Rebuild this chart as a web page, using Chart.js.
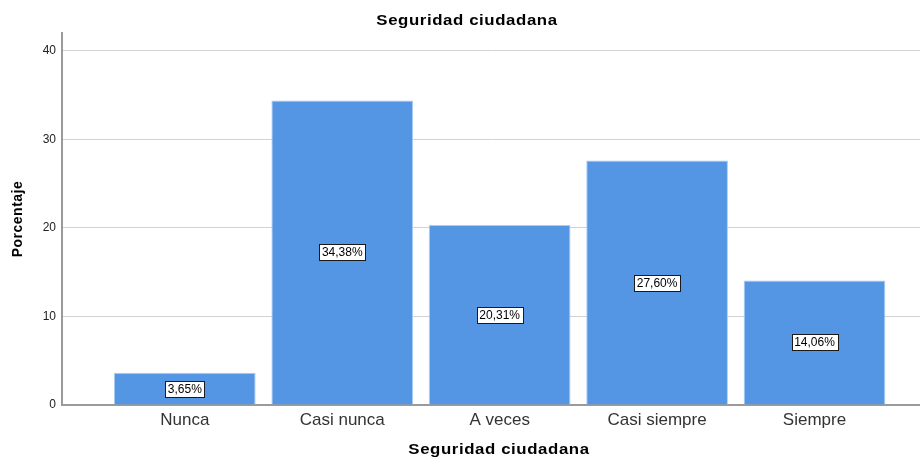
<!DOCTYPE html>
<html>
<head>
<meta charset="utf-8">
<script src="https://cdn.jsdelivr.net/npm/chart.js@4/dist/chart.umd.min.js"></script>
<style>
  html, body { margin: 0; padding: 0; background: #fff; }
  #wrap { width: 920px; height: 458px; }
</style>
</head>
<body>
<div id="wrap"><canvas id="chart" width="920" height="458"></canvas></div>
<script>
const categories = ['Nunca', 'Casi nunca', 'A veces', 'Casi siempre', 'Siempre'];
const percentages = [3.65, 34.38, 20.31, 27.60, 14.06];
const yTicks = [0, 10, 20, 30, 40];

const chartTitle = 'Seguridad ciudadana';
const xTitle = 'Seguridad ciudadana';
const yTitle = 'Porcentaje';

const FONT = '"Liberation Sans", Arial, sans-serif';

// white boxed value label in the middle of each bar
const barLabels = {
    id: 'barLabels',
    afterDatasetsDraw(chart) {
        const ctx = chart.ctx;
        const meta = chart.getDatasetMeta(0);
        ctx.save();
        ctx.font = '12px ' + FONT;
        ctx.textAlign = 'center';
        ctx.textBaseline = 'middle';
        meta.data.forEach(function(bar, i) {
            const text = percentages[i].toFixed(2).replace('.', ',') + '%';
            const cy = Math.round((bar.y + bar.base) / 2);
            const w = Math.round(ctx.measureText(text).width + 5);
            const h = 16;
            const bx = Math.round(bar.x - w / 2) + 0.5;
            const by = Math.round(cy - h / 2) + 0.5;
            ctx.fillStyle = '#ffffff';
            ctx.fillRect(bx, by, w, h);
            ctx.strokeStyle = '#1a1a1a';
            ctx.lineWidth = 1;
            ctx.strokeRect(bx, by, w, h);
            ctx.fillStyle = '#000000';
            ctx.fillText(text, bar.x, cy + 1);
        });
        ctx.restore();
    }
};

// horizontal titles in the original are drawn wider than normal text
function wideText(ctx, text, x, y) {
    ctx.save();
    ctx.translate(x, y);
    ctx.scale(1.2, 1);
    ctx.letterSpacing = '0.5px';
    ctx.fillText(text, 0, 0);
    ctx.restore();
}

const titles = {
    id: 'titles',
    afterDraw(chart) {
        const ctx = chart.ctx;
        const area = chart.chartArea;
        ctx.save();
        ctx.fillStyle = '#000';
        ctx.textAlign = 'center';
        ctx.textBaseline = 'middle';
        ctx.font = 'bold 14px ' + FONT;

        wideText(ctx, chartTitle, chart.width / 2 + 7, area.top - 12);
        wideText(ctx, xTitle, (area.left + area.right) / 2 + 8, chart.height - 8);

        ctx.letterSpacing = '0.5px';
        ctx.translate(18, (area.top + area.bottom) / 2);
        ctx.rotate(-Math.PI / 2);
        ctx.fillText(yTitle, 0, 0);
        ctx.restore();
    }
};

const ctx = document.getElementById('chart').getContext('2d');
const chart = new Chart(ctx, {
    type: 'bar',
    data: {
        datasets: [{
            label: 'Porcentaje',
            data: percentages.map((v, i) => ({ x: i, y: v })),
            backgroundColor: '#5596e4',
            borderColor: '#a9ccf4',
            borderWidth: 1,
            categoryPercentage: 1,
            barPercentage: 0.9
        }]
    },
    options: {
        responsive: false,
        animation: false,
        layout: { padding: { left: 0, right: 0, top: 33, bottom: 0 } },
        plugins: {
            legend: { display: false },
            tooltip: { enabled: false },
            title: { display: false }
        },
        scales: {
            x: {
                type: 'linear',
                offset: false,
                min: -0.78,
                max: 4.67,
                afterBuildTicks: function(scale) {
                    scale.ticks = categories.map((c, i) => ({ value: i }));
                },
                afterFit: function(scale) { scale.height = 53; },
                ticks: {
                    callback: function(value) { return categories[value]; },
                    color: '#333',
                    font: { family: FONT, size: 17 },
                    padding: 5,
                    maxRotation: 0,
                    autoSkip: false
                },
                grid: { display: false, drawTicks: false },
                border: { display: true, color: '#9a9a9a', width: 2 }
            },
            y: {
                min: 0,
                max: 42,
                afterBuildTicks: function(scale) {
                    scale.ticks = yTicks.map(v => ({ value: v }));
                },
                afterFit: function(scale) { scale.width = 62; },
                ticks: {
                    color: '#222',
                    font: { family: FONT, size: 12 },
                    padding: 6
                },
                grid: { color: '#d2d2d2', lineWidth: 1, drawTicks: false },
                border: { display: true, color: '#9a9a9a', width: 2 }
            }
        }
    },
    plugins: [barLabels, titles]
});
</script>
</body>
</html>
